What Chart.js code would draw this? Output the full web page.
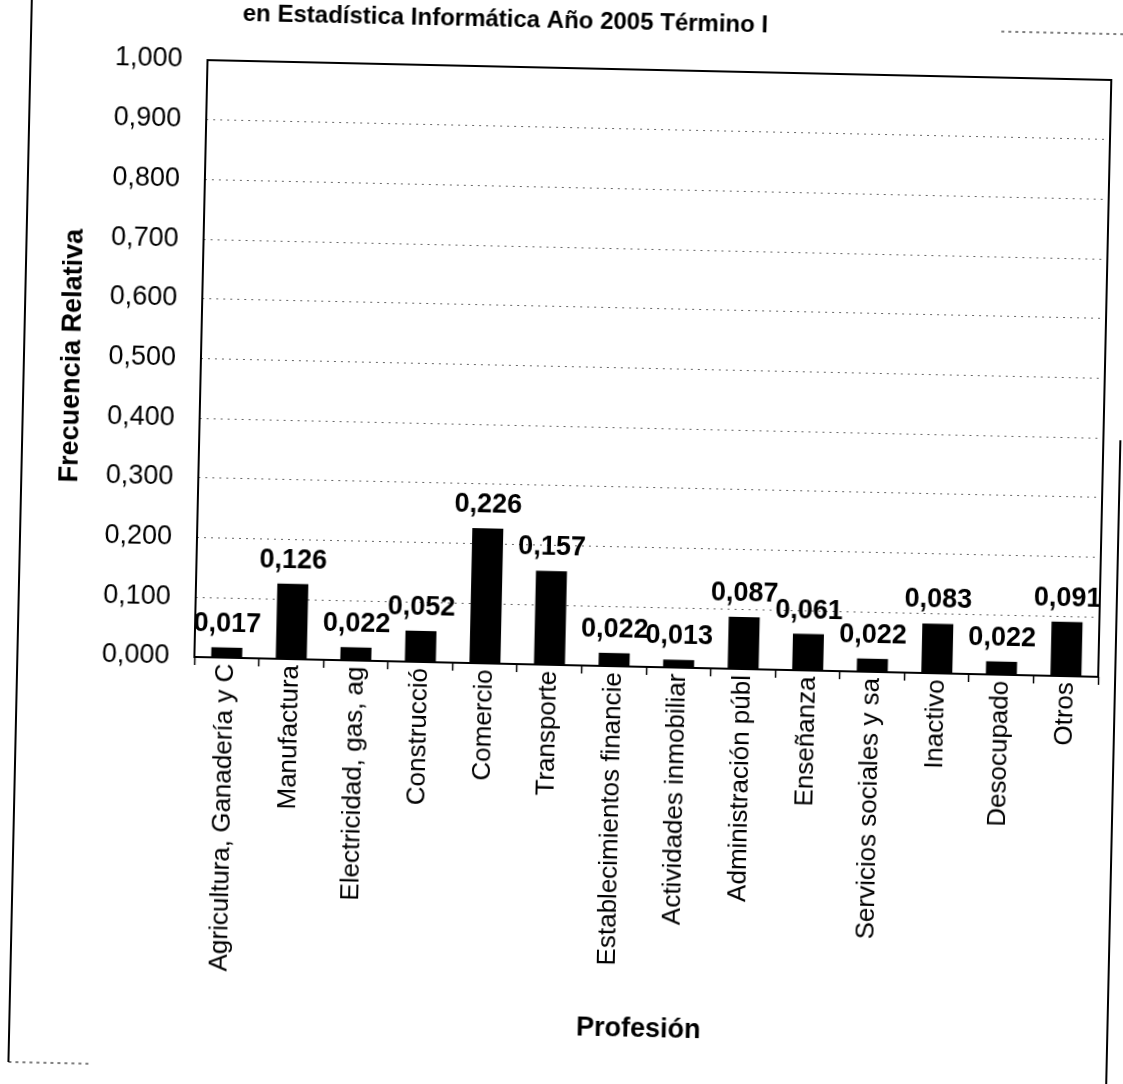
<!DOCTYPE html>
<html lang="es">
<head>
    <meta charset="UTF-8">
    <title>Frecuencia Relativa por Profesión</title>
    <script src="https://cdn.jsdelivr.net/npm/chart.js"></script>
    <style>
        html, body {
            margin: 0;
            padding: 0;
            background: #fff;
            overflow: hidden;
        }
        /* the scanned page is slightly tilted */
        #wrap {
            width: 1123px;
            height: 1084px;
            transform: rotate(1.26deg);
            transform-origin: 561px 542px;
        }
    </style>
</head>
<body>
    <div id="wrap"><canvas id="profChart" width="1123" height="1084"></canvas></div>

    <script>
        const categorias = [
            'Agricultura, Ganadería y C',
            'Manufactura',
            'Electricidad, gas, ag',
            'Construcció',
            'Comercio',
            'Transporte',
            'Establecimientos financie',
            'Actividades inmobiliar',
            'Administración públ',
            'Enseñanza',
            'Servicios sociales y sa',
            'Inactivo',
            'Desocupado',
            'Otros'
        ];
        const frecuencias = [0.017, 0.126, 0.022, 0.052, 0.226, 0.157, 0.022, 0.013, 0.087, 0.061, 0.022, 0.083, 0.022, 0.091];
        const yMin = 0;
        const yMax = 1;
        const yPaso = 0.1;
        const tituloGrafico = 'en Estadística Informática Año 2005 Término I';
        const tituloX = 'Profesión';
        const tituloY = 'Frecuencia Relativa';

        const FONT = '"Liberation Sans", Arial, sans-serif';
        const fmt = v => v.toFixed(3).replace('.', ',');

        // page frame, title and plot box
        const marcoPlugin = {
            id: 'marco',
            beforeDraw(chart) {
                const ctx = chart.ctx;
                ctx.save();
                ctx.fillStyle = '#fff';
                ctx.fillRect(0, 0, chart.width, chart.height);
                ctx.strokeStyle = '#000';
                ctx.lineWidth = 2;
                ctx.beginPath();
                ctx.moveTo(20, 10);
                ctx.lineTo(20, 1074);
                ctx.stroke();
                ctx.beginPath();
                ctx.moveTo(1118, 428);
                ctx.lineTo(1118, 1084);
                ctx.stroke();
                ctx.lineWidth = 1;
                ctx.setLineDash([3, 4]);
                ctx.beginPath();
                ctx.moveTo(20, 1074);
                ctx.lineTo(100, 1074);
                ctx.stroke();
                ctx.beginPath();
                ctx.moveTo(990, 22);
                ctx.lineTo(1123, 22);
                ctx.stroke();
                ctx.setLineDash([]);
                ctx.fillStyle = '#000';
                ctx.font = 'bold 24px ' + FONT;
                ctx.textAlign = 'center';
                ctx.textBaseline = 'alphabetic';
                ctx.fillText(tituloGrafico, 494, 28);
                ctx.restore();
            },
            afterDraw(chart) {
                const {left, top, right, bottom} = chart.chartArea;
                const ctx = chart.ctx;
                ctx.save();
                ctx.strokeStyle = '#000';
                ctx.lineWidth = 2;
                ctx.strokeRect(left, top, right - left, bottom - top);
                ctx.restore();
            }
        };

        // value labels above the bars
        const etiquetasPlugin = {
            id: 'etiquetas',
            afterDatasetsDraw(chart) {
                const ctx = chart.ctx;
                const meta = chart.getDatasetMeta(0);
                ctx.save();
                ctx.fillStyle = '#000';
                ctx.font = 'bold 27px ' + FONT;
                ctx.textAlign = 'center';
                ctx.textBaseline = 'alphabetic';
                meta.data.forEach((bar, i) => {
                    ctx.fillText(fmt(frecuencias[i]), bar.x, bar.y - 16);
                });
                ctx.restore();
            }
        };

        const ctx = document.getElementById('profChart').getContext('2d');
        const chart = new Chart(ctx, {
            type: 'bar',
            data: {
                labels: categorias,
                datasets: [{
                    data: frecuencias,
                    backgroundColor: '#000',
                    borderWidth: 0,
                    barPercentage: 0.48,
                    categoryPercentage: 1
                }]
            },
            options: {
                responsive: false,
                animation: false,
                devicePixelRatio: 1,
                layout: {
                    padding: {left: 20, right: 22, top: 68, bottom: 0}
                },
                plugins: {
                    legend: {display: false},
                    tooltip: {enabled: false}
                },
                scales: {
                    x: {
                        afterFit(scale) { scale.height = 419; },
                        grid: {
                            display: true,
                            drawOnChartArea: false,
                            drawTicks: true,
                            tickLength: 8,
                            tickColor: '#000',
                            tickWidth: 1.5
                        },
                        border: {display: false},
                        ticks: {
                            color: '#000',
                            font: {family: FONT, size: 26},
                            minRotation: 90,
                            maxRotation: 90,
                            autoSkip: false,
                            padding: -2
                        },
                        title: {
                            display: true,
                            text: tituloX,
                            color: '#000',
                            font: {family: FONT, size: 27, weight: 'bold'},
                            padding: {top: 0, bottom: 40}
                        }
                    },
                    y: {
                        min: yMin,
                        max: yMax,
                        afterFit(scale) { scale.width = 177; },
                        grid: {
                            color: '#666',
                            lineWidth: 1,
                            drawTicks: false
                        },
                        border: {display: false, dash: [2, 5]},
                        ticks: {
                            stepSize: yPaso,
                            color: '#000',
                            font: {family: FONT, size: 27},
                            padding: 25,
                            callback: v => fmt(v)
                        },
                        title: {
                            display: true,
                            text: tituloY,
                            color: '#000',
                            font: {family: FONT, size: 27, weight: 'bold'},
                            padding: {top: 32, bottom: 0}
                        }
                    }
                }
            },
            plugins: [marcoPlugin, etiquetasPlugin]
        });
    </script>
</body>
</html>
